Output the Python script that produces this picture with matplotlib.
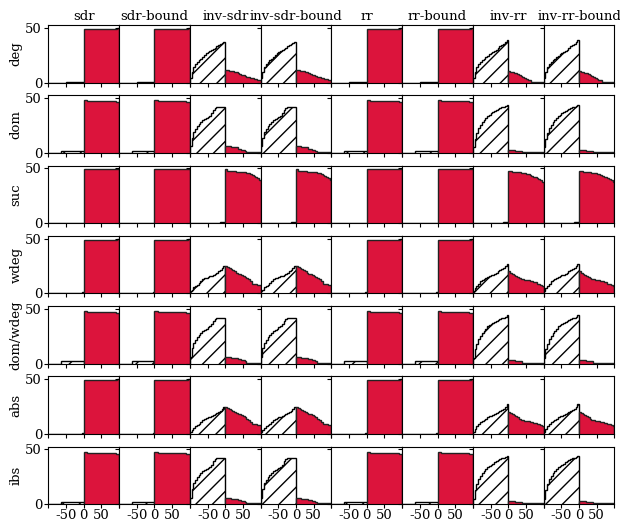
import numpy as np
import matplotlib.pyplot as plt

# ================================
# DATA
# ================================

columns = ["sdr", "sdr-bound", "inv-sdr", "inv-sdr-bound",
           "rr", "rr-bound", "inv-rr", "inv-rr-bound"]
rows = ["deg", "dom", "suc", "wdeg", "dom/wdeg", "abs", "ibs"]

# counts in 5-wide bins: left half covers -100..0, right half 0..100
direct_neg = {
    "deg":      [0, 0, 0, 0, 0, 0, 0, 0, 0, 0, 1, 1, 1, 1, 1, 1, 1, 1, 1, 1],
    "dom":      [0, 0, 0, 0, 0, 0, 0, 2, 2, 2, 2, 2, 2, 2, 2, 2, 2, 2, 2, 2],
    "suc":      [0, 0, 0, 0, 0, 0, 0, 0, 0, 0, 0, 0, 0, 0, 0, 0, 0, 0, 0, 0],
    "wdeg":     [0, 0, 0, 0, 0, 0, 0, 0, 0, 0, 0, 0, 0, 0, 0, 0, 0, 0, 0, 1],
    "dom/wdeg": [0, 0, 0, 0, 0, 0, 0, 2, 2, 2, 2, 2, 2, 2, 2, 2, 2, 2, 2, 2],
    "abs":      [0, 0, 0, 0, 0, 0, 0, 0, 0, 0, 0, 0, 0, 0, 0, 0, 0, 0, 0, 1],
    "ibs":      [0, 0, 0, 0, 0, 0, 0, 2, 2, 2, 2, 2, 2, 2, 2, 2, 2, 2, 2, 2],
}
direct_pos = {
    "deg":      [49, 49, 49, 49, 49, 49, 49, 49, 49, 49, 49, 49, 49, 49, 49, 49, 49, 49, 49, 50],
    "dom":      [48, 48, 47, 47, 47, 47, 47, 47, 47, 47, 47, 47, 47, 47, 47, 47, 47, 47, 46, 46],
    "suc":      [49.5] * 20,
    "wdeg":     [49, 49, 49, 49, 49, 49, 49, 49, 49, 49, 49, 49, 49, 49, 49, 49, 49, 49, 49, 50],
    "dom/wdeg": [48, 48, 47, 47, 47, 47, 47, 47, 47, 47, 47, 47, 47, 47, 47, 47, 47, 47, 46, 46],
    "abs":      [49, 49, 49, 49, 49, 49, 49, 49, 49, 49, 49, 49, 49, 49, 49, 49, 49, 49, 49, 50],
    "ibs":      [48, 48, 47, 47, 47, 47, 47, 47, 47, 47, 47, 47, 47, 47, 47, 47, 47, 47, 46, 46],
}

inv_sdr_neg = {
    "deg":      [4, 10, 14, 17, 19, 21, 22, 23.5, 25, 27, 28, 29, 29.5, 31, 32, 33, 34, 35, 36, 37],
    "dom":      [6, 14, 19, 22, 24.5, 26.5, 28, 30, 31, 32, 33, 34, 36, 39, 41, 42, 42, 42, 42, 42],
    "suc":      [0, 0, 0, 0, 0, 0, 0, 0, 0, 0, 0, 0, 0, 0, 0, 0, 0, 1, 1, 1],
    "wdeg":     [2, 3.5, 5.5, 7, 8, 9.5, 11, 13, 14, 14.5, 15, 15.5, 16, 17, 18, 19, 20, 21, 23, 25],
    "dom/wdeg": [6, 14, 19, 22, 24.5, 26.5, 28, 30, 31, 32, 33, 34, 36, 39, 41, 42, 42, 42, 42, 42],
    "abs":      [2, 3.5, 5.5, 7, 8, 9.5, 11, 13, 14, 14.5, 15, 15.5, 16, 17, 18, 19, 20, 21, 23, 25],
    "ibs":      [6, 14, 19, 22, 24.5, 26.5, 28, 30, 31, 32, 33, 34, 36, 39, 41, 42, 42, 42, 42, 42],
}
inv_sdr_pos = {
    "deg":      [12, 12, 11, 11, 11, 10, 10, 9, 8, 7, 7, 6, 5, 5, 4, 4, 3, 3, 2, 2],
    "dom":      [6, 6, 6, 5, 5, 5, 5, 4, 4, 3, 3, 2, 1, 1, 1, 1, 1, 1, 1, 1],
    "suc":      [49, 48, 48, 48, 48, 48, 47, 47, 47, 47, 47, 47, 46, 46, 45, 44, 43, 42, 41, 39],
    "wdeg":     [25, 24, 23, 22, 21, 20, 19, 18, 18, 17, 16, 15, 14, 13, 11, 9, 9, 9, 8, 8],
    "dom/wdeg": [6, 6, 6, 5, 5, 5, 5, 4, 4, 3, 3, 2, 1, 1, 1, 1, 1, 1, 1, 1],
    "abs":      [25, 24, 23, 22, 21, 20, 19, 18, 18, 17, 16, 15, 14, 13, 11, 9, 9, 9, 8, 8],
    "ibs":      [6, 6, 6, 5, 5, 5, 5, 4, 4, 3, 3, 2, 1, 1, 1, 1, 1, 1, 1, 1],
}

inv_rr_neg = {
    "deg":      [4, 10, 14, 17, 19, 21, 22, 23, 24, 26, 27, 28, 29, 30, 32, 33, 34, 35, 37, 39],
    "dom":      [5, 13, 18, 22.5, 25.5, 28, 30, 32, 34, 35, 36, 37, 38, 39, 40, 41, 42, 42, 43, 44],
    "suc":      [0, 0, 0, 0, 0, 0, 0, 0, 0, 0, 0, 0, 0, 0, 0, 0, 0, 1, 1, 1],
    "wdeg":     [2, 4.5, 7, 9, 11, 12, 13, 14, 15, 16, 16.5, 17, 18, 19, 20, 21, 22, 23, 25, 27],
    "dom/wdeg": [5, 13, 18, 22.5, 25.5, 28, 30, 32, 34, 35, 36, 37, 38, 39, 40, 41, 42, 42, 43, 44],
    "abs":      [2, 4.5, 7, 9, 11, 12, 13, 14, 15, 16, 16.5, 17, 18, 19, 20, 21, 22, 23, 25, 27],
    "ibs":      [5, 13, 18, 22.5, 25.5, 28, 30, 32, 34, 35, 36, 37, 38, 39, 40, 41, 42, 42, 43, 44],
}
inv_rr_pos = {
    "deg":      [11, 10, 10, 9, 9, 8, 7, 6, 5, 4, 3, 2, 2, 1, 1, 1, 1, 1, 1, 1],
    "dom":      [3, 3, 3, 3, 2, 2, 2, 2, 1, 1, 1, 1, 1, 1, 1, 1, 1, 1, 1, 1],
    "suc":      [48, 48, 47, 47, 47, 47, 47, 46, 46, 46, 45, 45, 44, 43, 42, 42, 41, 40, 39, 38],
    "wdeg":     [20, 19, 18, 17, 16, 15, 14, 13, 13, 12, 12, 12, 11, 11, 10, 10, 9, 9, 8, 7],
    "dom/wdeg": [3, 3, 3, 3, 2, 2, 2, 2, 1, 1, 1, 1, 1, 1, 1, 1, 1, 1, 1, 1],
    "abs":      [20, 19, 18, 17, 16, 15, 14, 13, 13, 12, 12, 12, 11, 11, 10, 10, 9, 9, 8, 7],
    "ibs":      [3, 3, 3, 3, 2, 2, 2, 2, 1, 1, 1, 1, 1, 1, 1, 1, 1, 1, 1, 1],
}


def profile(col, row):
    if col.startswith("inv-sdr"):
        return inv_sdr_neg[row], inv_sdr_pos[row]
    if col.startswith("inv-rr"):
        return inv_rr_neg[row], inv_rr_pos[row]
    return direct_neg[row], direct_pos[row]


# ================================
# PLOT
# ================================

plt.rcParams['font.family'] = 'DejaVu Serif'
plt.rcParams['font.size'] = 9.5
plt.rcParams['xtick.major.size'] = 3
plt.rcParams['ytick.major.size'] = 3
plt.rcParams['xtick.major.pad'] = 0.5
plt.rcParams['ytick.major.pad'] = 1.5

edges_neg = np.linspace(-100, 0, 21)
edges_pos = np.linspace(0, 100, 21)

fig, axes = plt.subplots(len(rows), len(columns), figsize=(6.2, 5.23), dpi=100,
                         sharex=True, sharey=True)
fig.subplots_adjust(left=0.078, right=0.991, top=0.952, bottom=0.036,
                    wspace=0, hspace=0.22)

for i, row in enumerate(rows):
    for j, col in enumerate(columns):
        ax = axes[i, j]
        neg, pos = profile(col, row)
        ax.stairs(neg, edges_neg, fill=True, facecolor='white',
                  edgecolor='black', hatch='//', linewidth=1)
        ax.stairs(pos, edges_pos, fill=True, facecolor='crimson',
                  edgecolor='#222222', linewidth=1)
        if i == 0:
            ax.set_title(col, fontsize=9.5, pad=4)
        if j == 0:
            ax.set_ylabel(row, labelpad=2)

ax = axes[0, 0]
ax.set_xlim(-100, 100)
ax.set_ylim(0, 52.5)
ax.set_xticks([-100, -50, 0, 50, 100], ['', '-50', '0', '50', ''])
ax.set_yticks([0, 50])

fig.savefig('out.png', dpi=100)
